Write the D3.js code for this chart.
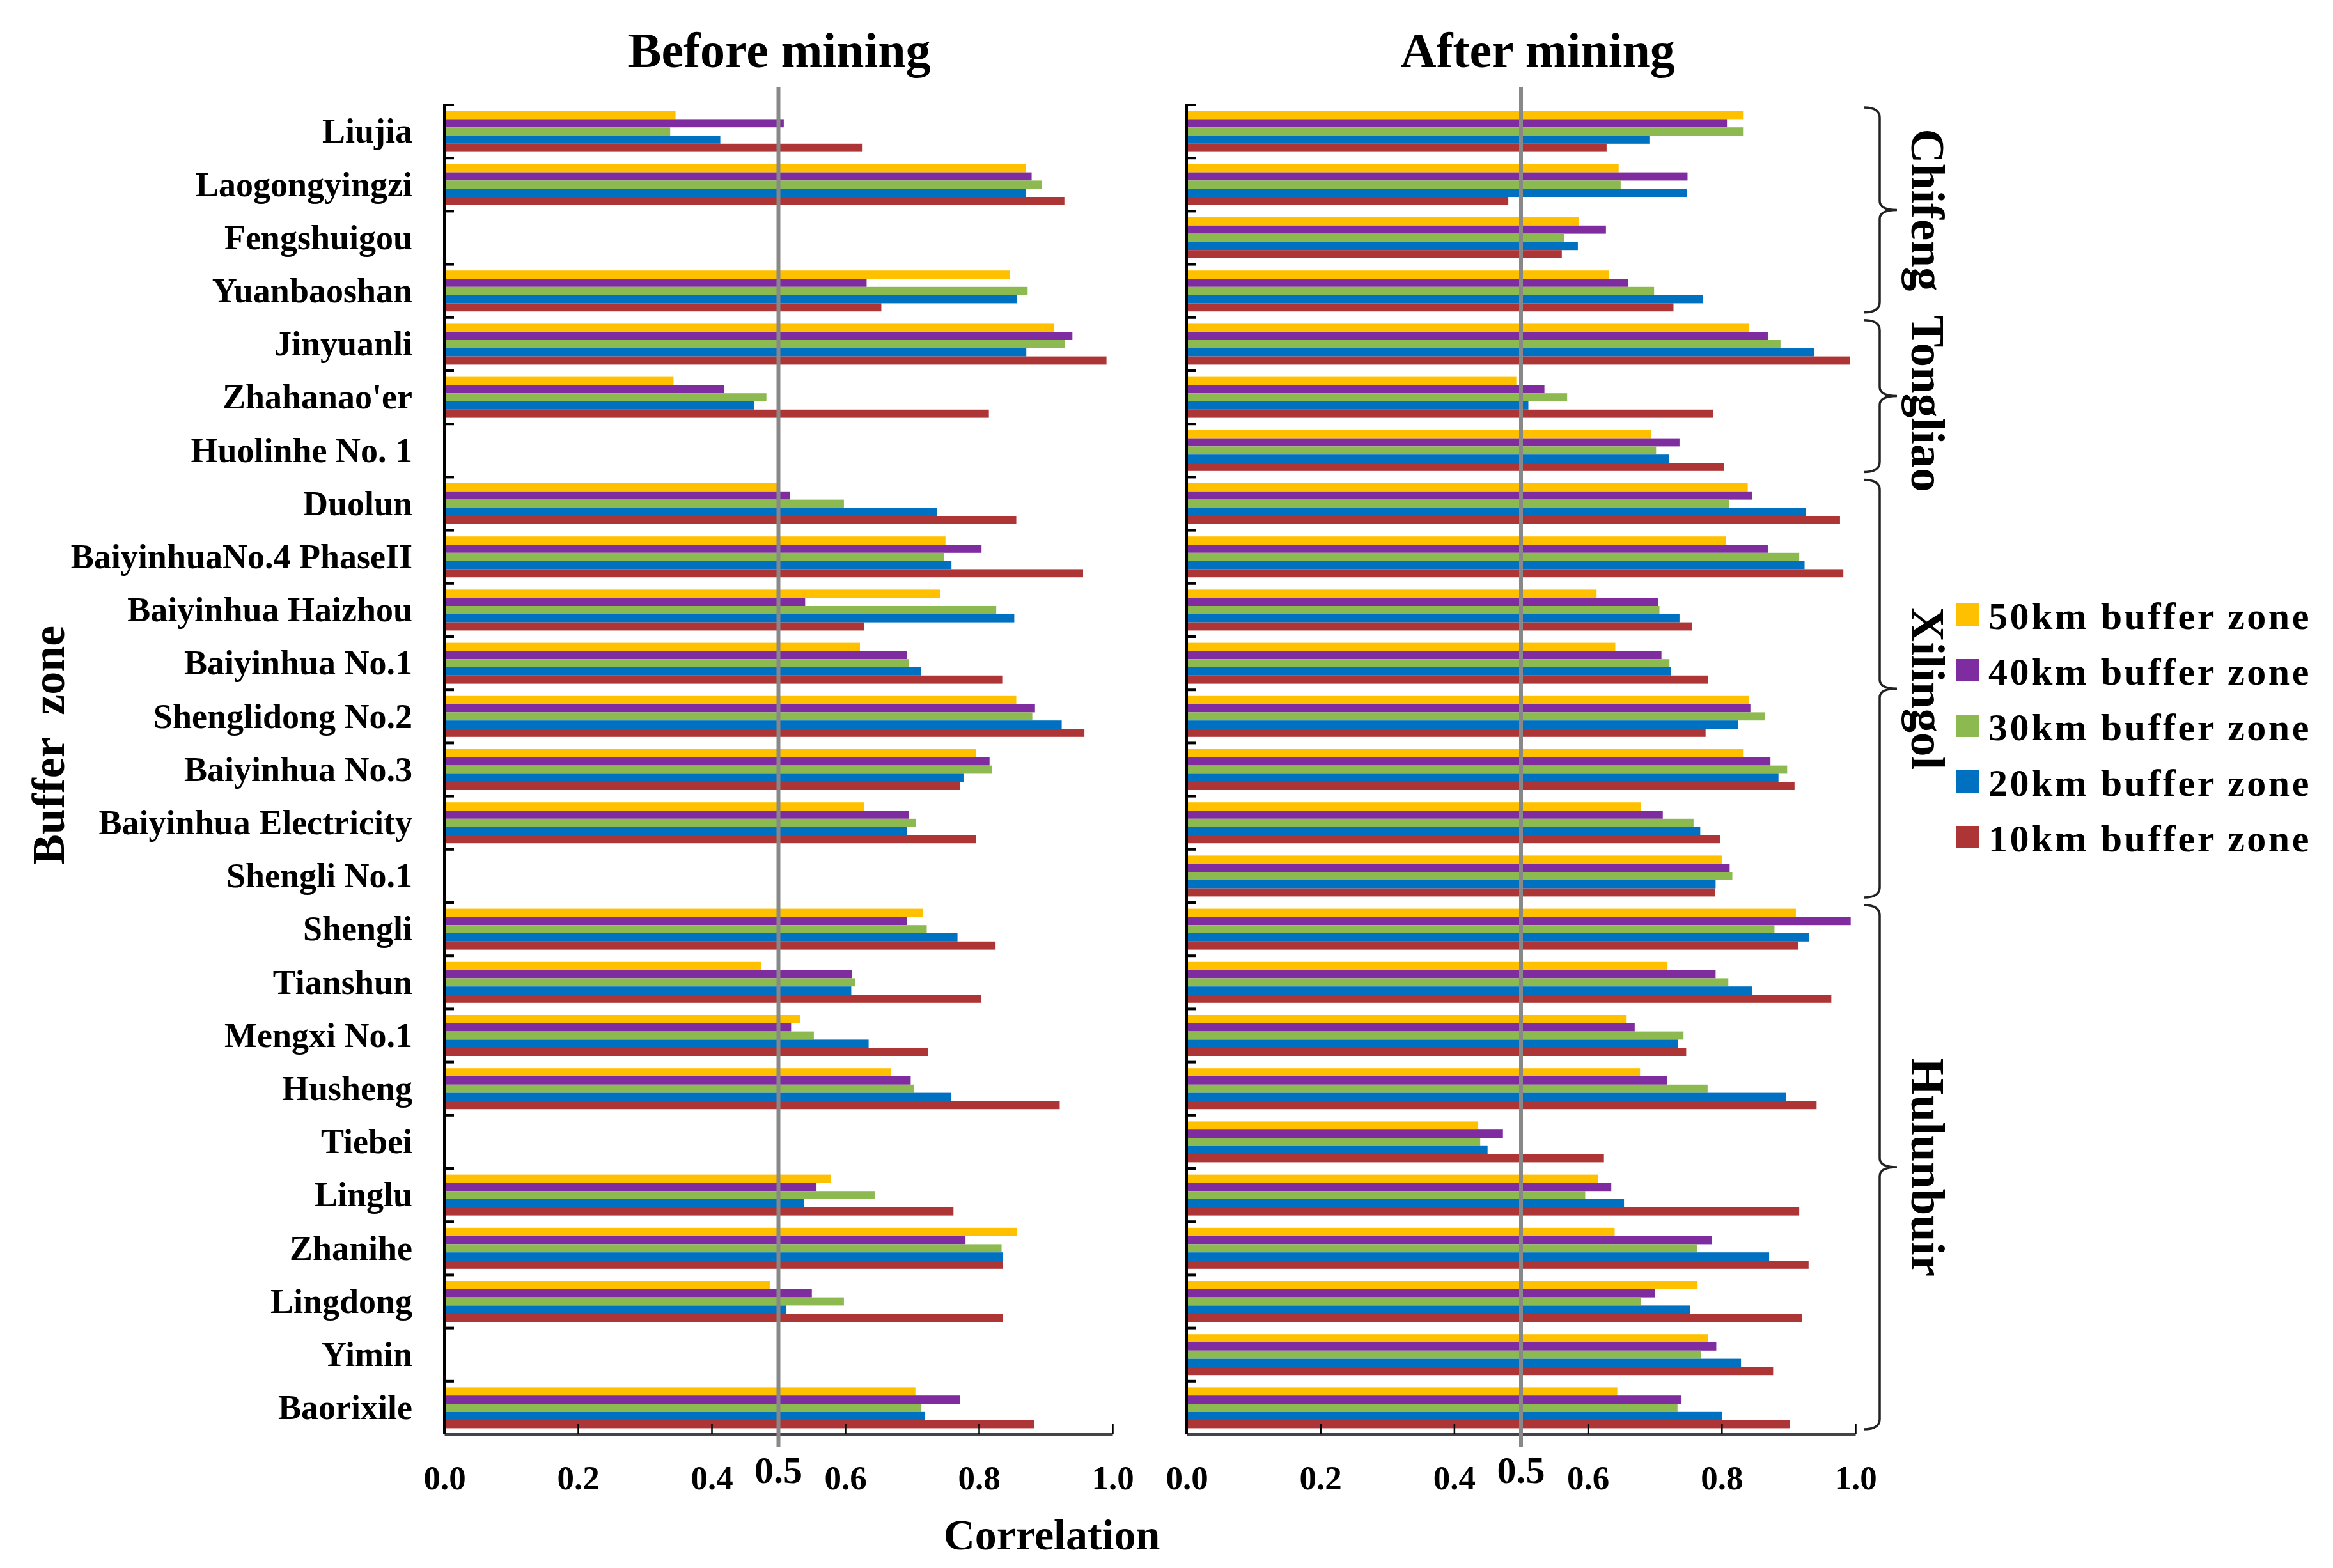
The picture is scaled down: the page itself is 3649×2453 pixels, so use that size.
<!DOCTYPE html>
<html>
<head>
<meta charset="utf-8">
<script src="https://cdn.jsdelivr.net/npm/d3@7/dist/d3.min.js"></script>
<style>
  body { margin: 0; background: #fff; }
  text { font-family: "Liberation Serif", "Times New Roman", serif; font-weight: bold; fill: #000; }
</style>
</head>
<body>
<div id="chart"></div>
<script>
// mines, top to bottom
var mines = ["Liujia", "Laogongyingzi", "Fengshuigou", "Yuanbaoshan", "Jinyuanli",
    "Zhahanao'er", "Huolinhe No. 1", "Duolun", "BaiyinhuaNo.4 PhaseII", "Baiyinhua Haizhou",
    "Baiyinhua No.1", "Shenglidong No.2", "Baiyinhua No.3", "Baiyinhua Electricity", "Shengli No.1",
    "Shengli", "Tianshun", "Mengxi No.1", "Husheng", "Tiebei",
    "Linglu", "Zhanihe", "Lingdong", "Yimin", "Baorixile"];

var zones = ["50km buffer zone", "40km buffer zone", "30km buffer zone", "20km buffer zone", "10km buffer zone"];
var zoneColors = ["#FFC000", "#7F2CA0", "#8DBA50", "#0070C0", "#AE3535"];

// before mining (null = no data)
var before50 = [0.346, 0.870, null, 0.846, 0.913, 0.343, null, 0.499, 0.750, 0.742, 0.622, 0.856, 0.796, 0.628, null, 0.716, 0.474, 0.533, 0.668, null, 0.579, 0.857, 0.487, null, 0.705];
var before40 = [0.508, 0.879, null, 0.632, 0.940, 0.419, null, 0.517, 0.804, 0.540, 0.692, 0.884, 0.816, 0.695, null, 0.692, 0.610, 0.519, 0.698, null, 0.557, 0.780, 0.550, null, 0.772];
var before30 = [0.338, 0.894, null, 0.873, 0.929, 0.482, null, 0.598, 0.748, 0.826, 0.695, 0.880, 0.820, 0.706, null, 0.722, 0.615, 0.553, 0.703, null, 0.644, 0.834, 0.598, null, 0.714];
var before20 = [0.413, 0.870, null, 0.857, 0.871, 0.464, null, 0.737, 0.759, 0.853, 0.713, 0.924, 0.777, 0.692, null, 0.768, 0.609, 0.635, 0.758, null, 0.538, 0.836, 0.512, null, 0.719];
var before10 = [0.626, 0.928, null, 0.654, 0.991, 0.815, null, 0.856, 0.956, 0.628, 0.835, 0.958, 0.772, 0.796, null, 0.825, 0.803, 0.724, 0.921, null, 0.762, 0.836, 0.836, null, 0.883];

// after mining
var after50 = [0.832, 0.646, 0.587, 0.631, 0.841, 0.493, 0.695, 0.839, 0.806, 0.613, 0.641, 0.841, 0.832, 0.679, 0.801, 0.911, 0.719, 0.657, 0.678, 0.436, 0.615, 0.640, 0.764, 0.780, 0.644];
var after40 = [0.808, 0.749, 0.627, 0.660, 0.869, 0.535, 0.737, 0.846, 0.869, 0.705, 0.710, 0.843, 0.873, 0.712, 0.812, 0.993, 0.791, 0.670, 0.718, 0.473, 0.635, 0.785, 0.700, 0.792, 0.740];
var after30 = [0.832, 0.649, 0.565, 0.699, 0.888, 0.569, 0.702, 0.811, 0.916, 0.707, 0.722, 0.865, 0.898, 0.758, 0.816, 0.879, 0.810, 0.743, 0.779, 0.439, 0.596, 0.763, 0.679, 0.769, 0.734];
var after20 = [0.692, 0.748, 0.585, 0.772, 0.938, 0.511, 0.721, 0.926, 0.924, 0.737, 0.724, 0.825, 0.885, 0.768, 0.791, 0.931, 0.846, 0.735, 0.896, 0.450, 0.654, 0.871, 0.753, 0.829, 0.801];
var after10 = [0.628, 0.481, 0.561, 0.728, 0.992, 0.787, 0.804, 0.977, 0.982, 0.756, 0.780, 0.776, 0.909, 0.798, 0.790, 0.914, 0.964, 0.747, 0.942, 0.624, 0.916, 0.930, 0.920, 0.877, 0.902];

var regions = ["Chifeng", "Tongliao", "Xilingol", "Hulunbuir"];
var regionFirst = ["Liujia", "Jinyuanli", "Duolun", "Shengli"];
var regionLast = ["Yuanbaoshan", "Huolinhe No. 1", "Shengli No.1", "Baorixile"];

var xTicks = [0, 0.2, 0.4, 0.6, 0.8, 1.0];
var threshold = 0.5;

var svgWidth = 3649;
var svgHeight = 2453;

var svg = d3.select("#chart")
    .append("svg")
    .attr("width", svgWidth)
    .attr("height", svgHeight);

// row scale shared by both panels
var y0 = d3.scaleBand()
    .domain(mines)
    .range([164, 2244]);
var y1 = d3.scaleBand()
    .domain(zones)
    .range([0, y0.bandwidth()])
    .paddingOuter(0.75);
var color = d3.scaleOrdinal().domain(zones).range(zoneColors);

var panels = [
    {title: "Before mining", titleX: 1219, range: [695, 1740], series: [before50, before40, before30, before20, before10]},
    {title: "After mining", titleX: 2405, range: [1856, 2902], series: [after50, after40, after30, after20, after10]}
];

panels.forEach(function(p, pi) {
    var x = d3.scaleLinear().domain([0, 1]).range(p.range);
    var g = svg.append("g");

    // bars
    zones.forEach(function(z, zi) {
        var rows = mines.map(function(m, i) { return {mine: m, value: p.series[zi][i]}; })
            .filter(function(d) { return d.value !== null; });
        g.selectAll(null)
            .data(rows)
            .enter()
            .append("rect")
            .attr("x", x(0))
            .attr("y", function(d) { return y0(d.mine) + y1(z); })
            .attr("width", function(d) { return x(d.value) - x(0); })
            .attr("height", y1.bandwidth())
            .attr("fill", color(z));
    });

    // bottom axis, ticks pointing up
    var bottomAxis = d3.axisBottom(x)
        .tickValues(xTicks)
        .tickFormat(d3.format(".1f"))
        .tickSizeInner(-16)
        .tickSizeOuter(0)
        .tickPadding(48);
    var ax = g.append("g")
        .attr("transform", "translate(0," + y0.range()[1] + ")")
        .call(bottomAxis);
    ax.select(".domain").attr("stroke", "#444").attr("stroke-width", 5);
    ax.selectAll(".tick line").attr("stroke", "#000").attr("stroke-width", 2.5);
    ax.selectAll(".tick text")
        .style("font-family", "'Liberation Serif', serif")
        .style("font-weight", "bold")
        .style("font-size", "53px")
        .attr("fill", "#000");

    // left axis line + row ticks
    g.append("line")
        .attr("x1", x(0)).attr("x2", x(0))
        .attr("y1", y0.range()[0] - 2).attr("y2", y0.range()[1])
        .attr("stroke", "#000").attr("stroke-width", 4);
    g.selectAll(null)
        .data(mines)
        .enter()
        .append("line")
        .attr("x1", x(0)).attr("x2", x(0) + 15)
        .attr("y1", function(d) { return y0(d); })
        .attr("y2", function(d) { return y0(d); })
        .attr("stroke", "#000").attr("stroke-width", 4);

    // 0.5 reference line
    g.append("line")
        .attr("x1", x(threshold)).attr("x2", x(threshold))
        .attr("y1", 136).attr("y2", 2264)
        .attr("stroke", "#888").attr("stroke-width", 6);
    g.append("text")
        .attr("x", x(threshold))
        .attr("y", 2320)
        .attr("text-anchor", "middle")
        .style("font-size", "60px")
        .text("0.5");

    // panel title
    g.append("text")
        .attr("x", p.titleX)
        .attr("y", 105)
        .attr("text-anchor", "middle")
        .style("font-size", "78px")
        .text(p.title);

    // category labels, left panel only
    if (pi === 0) {
        g.selectAll(null)
            .data(mines)
            .enter()
            .append("text")
            .attr("x", x(0) - 50)
            .attr("y", function(d) { return y0(d) + y0.bandwidth() / 2; })
            .attr("dy", "0.33em")
            .attr("text-anchor", "end")
            .style("font-size", "54px")
            .text(function(d) { return d; });
    }

    // region braces, right panel only
    if (pi === 1) {
        var bx = x(1) + 13;
        regions.forEach(function(r, ri) {
            var top = y0(regionFirst[ri]) + 4;
            var bot = y0(regionLast[ri]) + y0.bandwidth() - 8;
            var mid = (top + bot) / 2;
            var vx = bx + 25, cx = bx + 52;
            var path = "M" + bx + "," + top +
                " Q" + vx + "," + top + " " + vx + "," + (top + 16) +
                " L" + vx + "," + (mid - 14) +
                " Q" + vx + "," + mid + " " + cx + "," + mid +
                " Q" + vx + "," + mid + " " + vx + "," + (mid + 14) +
                " L" + vx + "," + (bot - 16) +
                " Q" + vx + "," + bot + " " + bx + "," + bot;
            svg.append("path")
                .attr("d", path)
                .attr("fill", "none")
                .attr("stroke", "#222")
                .attr("stroke-width", 3.5);
            svg.append("text")
                .attr("transform", "translate(" + (bx + 75) + "," + (mid + (ri === 1 ? 12 : 0)) + ") rotate(90)")
                .attr("text-anchor", "middle")
                .style("font-size", "75px")
                .text(r);
        });
    }
});

// axis titles
svg.append("text")
    .attr("x", 1645)
    .attr("y", 2424)
    .attr("text-anchor", "middle")
    .style("font-size", "68px")
    .text("Correlation");

svg.append("text")
    .attr("transform", "translate(100,1166) rotate(-90)")
    .attr("text-anchor", "middle")
    .attr("xml:space", "preserve")
    .style("font-size", "72px")
    .style("white-space", "pre")
    .text("Buffer  zone");

// legend
var legend = svg.append("g").attr("transform", "translate(3059,944)");
var lg = legend.selectAll(null)
    .data(zones)
    .enter()
    .append("g")
    .attr("transform", function(d, i) { return "translate(0," + (i * 87) + ")"; });
lg.append("rect")
    .attr("width", 37)
    .attr("height", 35)
    .attr("fill", function(d) { return color(d); });
lg.append("text")
    .attr("x", 51)
    .attr("y", 40)
    .style("font-size", "60px")
    .style("letter-spacing", "3.5px")
    .text(function(d) { return d; });
</script>
</body>
</html>
